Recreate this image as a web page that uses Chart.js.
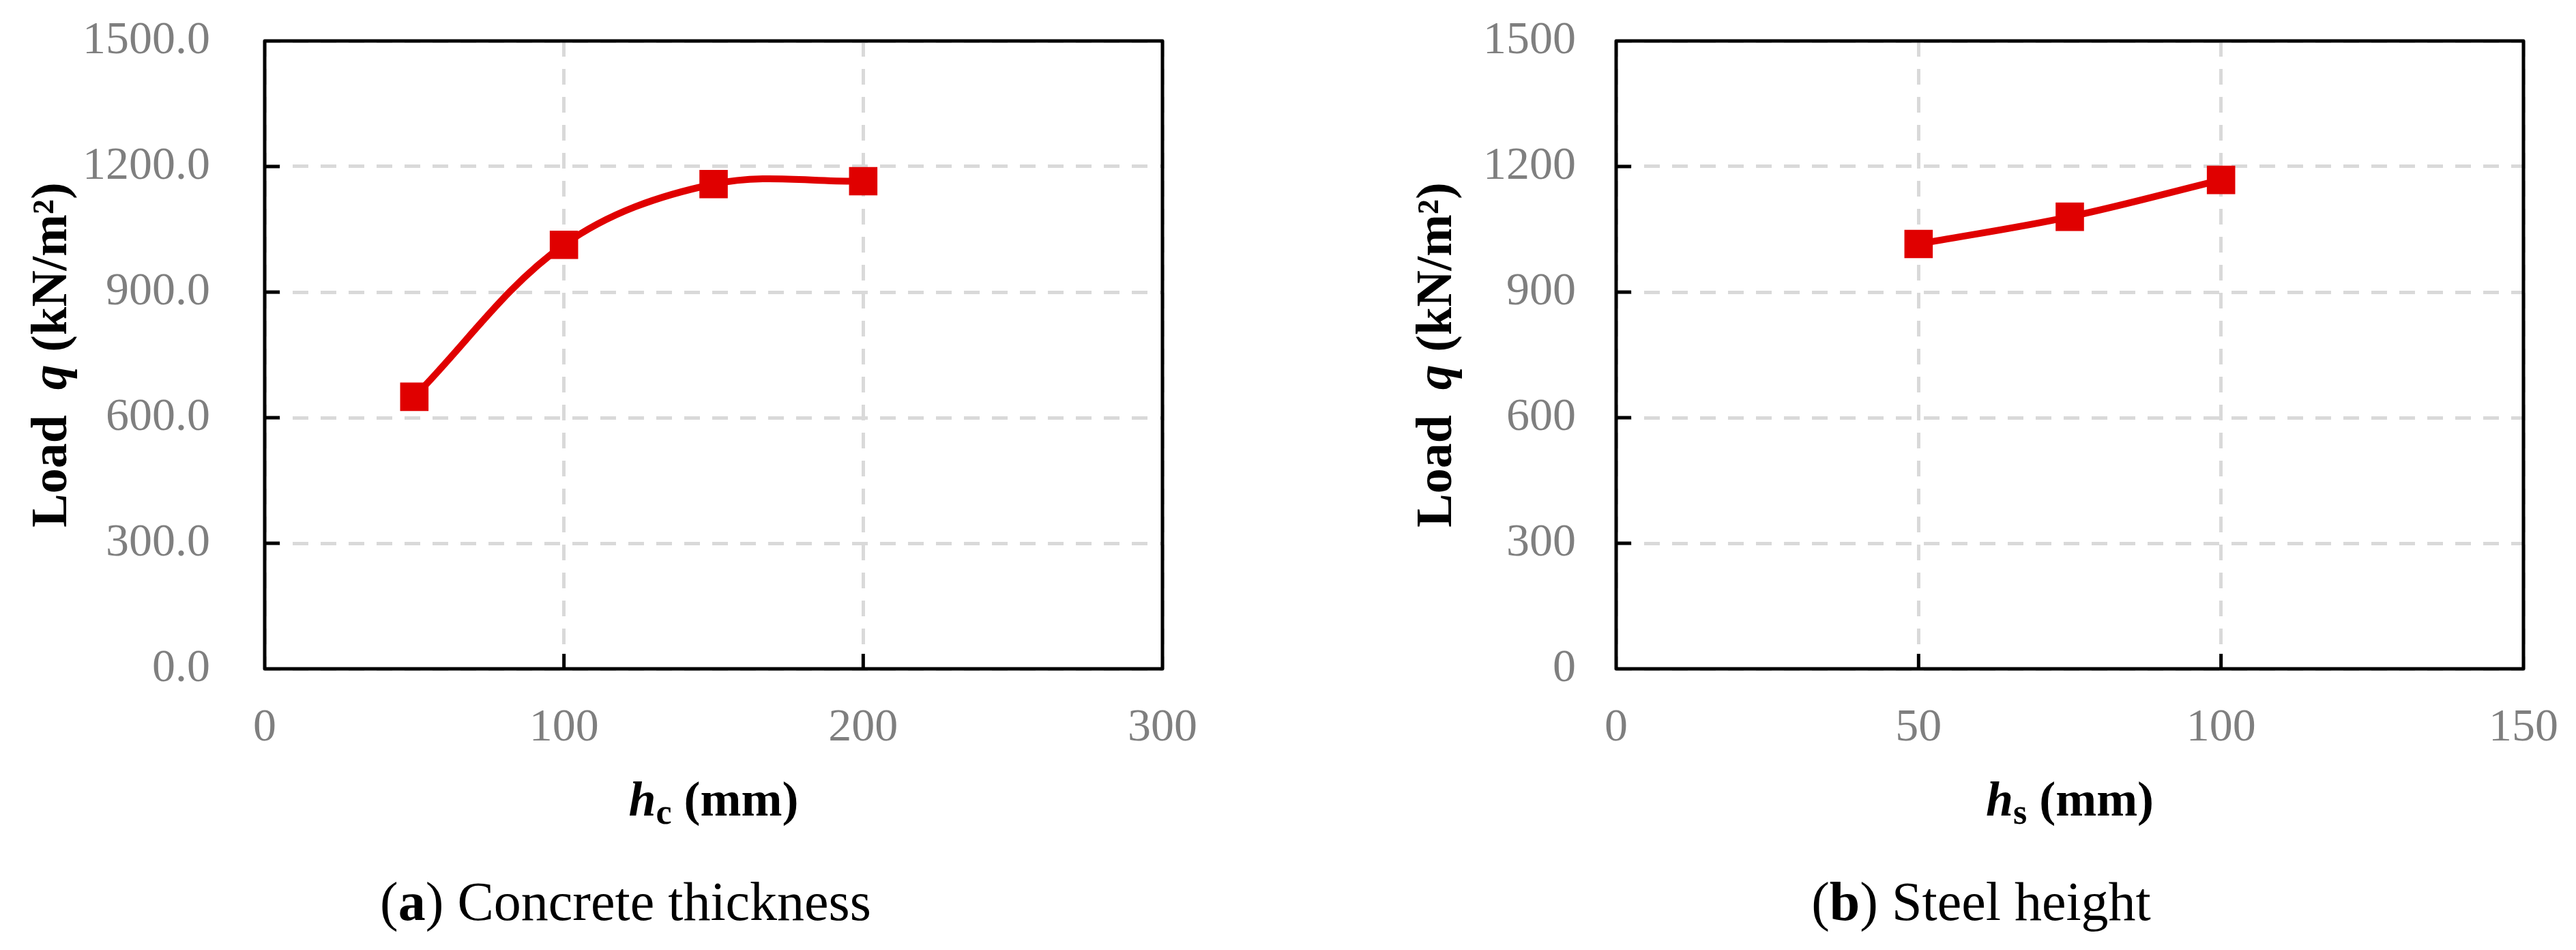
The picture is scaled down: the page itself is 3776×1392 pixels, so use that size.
<!DOCTYPE html>
<html><head><meta charset="utf-8">
<script src="https://cdn.jsdelivr.net/npm/chart.js@4.4.0/dist/chart.umd.min.js"></script>
<style>
html,body{margin:0;padding:0;background:#fff;}
body{width:3776px;height:1392px;position:relative;overflow:hidden;}
canvas{position:absolute;top:0;}
</style></head><body>
<canvas id="ca" width="1888" height="1392" style="left:0px"></canvas>
<canvas id="cb" width="1888" height="1392" style="left:1888px"></canvas>
<script>
// ---- data ----
const hcValues = [50, 100, 150, 200];
const loadA = [650, 1013, 1158, 1165];
const hsValues = [50, 75, 100];
const loadB = [1015, 1080, 1168];
const xTicksA = ['0', '100', '200', '300'];
const yTicksA = ['0.0', '300.0', '600.0', '900.0', '1200.0', '1500.0'];
const xTicksB = ['0', '50', '100', '150'];
const yTicksB = ['0', '300', '600', '900', '1200', '1500'];

const SERIF = '"Liberation Serif", "Times New Roman", serif';
const RED = '#e00000';
const GRID = '#d9d9d9';
const TICKCOL = '#7f7f7f';

function drawRich(ctx, segs, x, y) {
  let total = 0;
  segs.forEach(s => { ctx.font = s.f; total += ctx.measureText(s.t).width; });
  let cx = x - total / 2;
  ctx.textAlign = 'left';
  ctx.textBaseline = 'alphabetic';
  segs.forEach(s => {
    ctx.font = s.f;
    ctx.fillText(s.t, cx, y + (s.dy || 0));
    cx += ctx.measureText(s.t).width;
  });
}

const panelDecor = {
  id: 'panelDecor',
  beforeDatasetsDraw(chart, args, o) {
    const {ctx, chartArea: a, scales} = chart;
    ctx.save();
    ctx.strokeStyle = '#000';
    ctx.lineWidth = 5;
    ctx.lineCap = 'butt';
    // inner tick marks
    scales.y.ticks.forEach((t, i) => {
      if (i === 0 || i === scales.y.ticks.length - 1) return;
      const py = scales.y.getPixelForValue(t.value);
      ctx.beginPath(); ctx.moveTo(a.left, py); ctx.lineTo(a.left + 22, py); ctx.stroke();
    });
    scales.x.ticks.forEach((t, i) => {
      if (i === 0 || i === scales.x.ticks.length - 1) return;
      const px = scales.x.getPixelForValue(t.value);
      ctx.beginPath(); ctx.moveTo(px, a.bottom); ctx.lineTo(px, a.bottom - 22); ctx.stroke();
    });
    // frame
    ctx.lineJoin = 'round';
    ctx.strokeRect(a.left, a.top, a.right - a.left, a.bottom - a.top);
    ctx.restore();
  },
  afterDraw(chart, args, o) {
    const {ctx, chartArea: a} = chart;
    ctx.save();
    ctx.fillStyle = '#000';
    // y axis title (rotated)
    ctx.save();
    ctx.translate(o.yTitleX, (a.top + a.bottom) / 2);
    ctx.rotate(-Math.PI / 2);
    drawRich(ctx, [
      {t: 'Load  ', f: 'bold 74px ' + SERIF},
      {t: 'q', f: 'italic bold 74px ' + SERIF},
      {t: ' (kN/m²)', f: 'bold 74px ' + SERIF}
    ], 0, 0);
    ctx.restore();
    // x axis title
    drawRich(ctx, [
      {t: 'h', f: 'italic bold 72px ' + SERIF},
      {t: o.sub, f: 'bold 52px ' + SERIF, dy: 12},
      {t: ' (mm)', f: 'bold 72px ' + SERIF}
    ], (a.left + a.right) / 2, 1195);
    // caption
    drawRich(ctx, [
      {t: '(', f: '80px ' + SERIF},
      {t: o.letter, f: 'bold 80px ' + SERIF},
      {t: ') ' + o.caption, f: '80px ' + SERIF}
    ], o.captionX, 1348);
    ctx.restore();
  }
};

function makeChart(id, xs, ys, xMax, xStep, xLabels, yLabels, yWidth, rightPad, yPad, decor) {
  const pts = xs.map((x, i) => ({x: x, y: ys[i]}));
  return new Chart(document.getElementById(id), {
    type: 'line',
    data: {datasets: [{
      data: pts,
      borderColor: RED,
      backgroundColor: RED,
      borderWidth: 10,
      tension: 0.35,
      pointStyle: 'rect',
      pointRadius: 28,
      pointBorderWidth: 2,
      pointBorderColor: RED,
      pointBackgroundColor: RED,
      fill: false
    }]},
    options: {
      responsive: false,
      animation: false,
      devicePixelRatio: 1,
      layout: {padding: {left: 0, top: 60, right: rightPad, bottom: 292}},
      plugins: {legend: {display: false}, tooltip: {enabled: false}, panelDecor: decor},
      scales: {
        x: {
          type: 'linear', min: 0, max: xMax,
          ticks: {stepSize: xStep, autoSkip: false, maxRotation: 0, padding: 46,
            color: TICKCOL, font: {family: SERIF, size: 68},
            callback: (v, i) => xLabels[i]},
          grid: {color: GRID, lineWidth: 5, drawTicks: false},
          border: {display: false, dash: [23, 18]},
          afterFit: s => { s.height = 120; s.paddingLeft = 0; s.paddingRight = 0; }
        },
        y: {
          min: 0, max: 1500,
          ticks: {stepSize: 300, autoSkip: false, padding: yPad,
            color: TICKCOL, font: {family: SERIF, size: 68},
            callback: (v, i) => yLabels[i]},
          grid: {color: GRID, lineWidth: 5, drawTicks: false},
          border: {display: false, dash: [23, 18]},
          afterFit: s => { s.width = yWidth; s.paddingTop = 0; s.paddingBottom = 0; }
        }
      }
    },
    plugins: [panelDecor]
  });
}

makeChart('ca', hcValues, loadA, 300, 100, xTicksA, yTicksA, 388, 184, 80,
  {yTitleX: 97, sub: 'c', letter: 'a', caption: 'Concrete thickness', captionX: 917});
makeChart('cb', hsValues, loadB, 150, 50, xTicksB, yTicksB, 481, 77, 59,
  {yTitleX: 239, sub: 's', letter: 'b', caption: 'Steel height', captionX: 1016});
</script>
</body></html>
